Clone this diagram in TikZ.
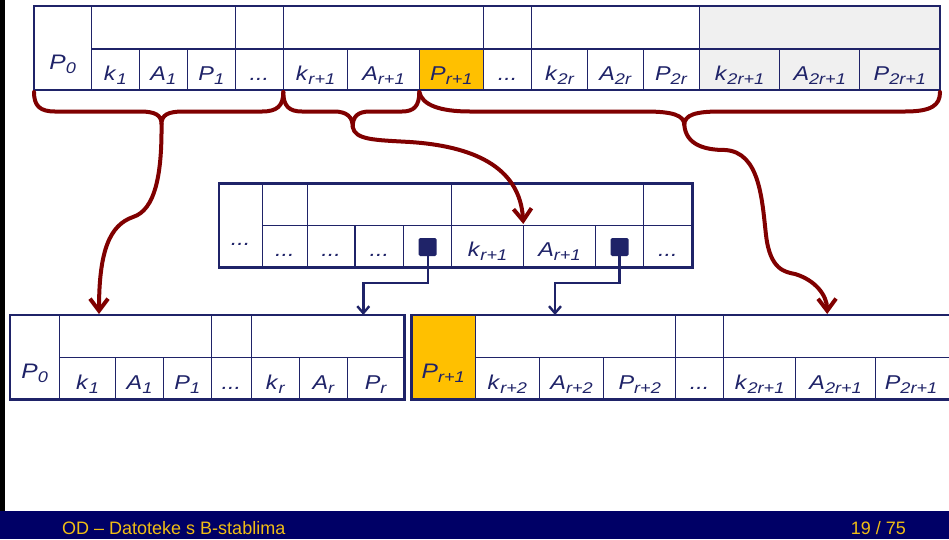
\documentclass[tikz,border=0pt]{standalone}
\usepackage{fontspec}
\setmainfont{Liberation Sans}
\usetikzlibrary{arrows.meta}
\definecolor{navy}{RGB}{31,35,104}
\definecolor{maroon}{RGB}{128,0,0}
\definecolor{gold}{RGB}{255,192,0}
\definecolor{lgray}{RGB}{240,240,240}
\definecolor{footbg}{RGB}{0,0,102}
\definecolor{foottxt}{RGB}{240,190,20}
\newcommand\lbl[2]{\scalebox{1.17}[1]{\textit{#1}\raisebox{-4.5pt}{\fontsize{15.5}{18}\selectfont\textit{#2}}}}
\newcommand\dts{\scalebox{1.17}[1]{\textit{...}}}
\newcommand\bigtxt[1]{{\fontsize{21}{24}\selectfont #1}}
\newcommand\cel[8]{\node[cell,fill=#6,minimum width={#4-#2},minimum height={#5-#3}] (#1) at ({(#2+#4)/2},{(#3+#5)/2}) {};
\node[txt] (#1t) at ({(#2+#4)/2},#8) {#7};}
\newcommand\ecel[6]{\node[cell,fill=#6,minimum width={#4-#2},minimum height={#5-#3}] (#1) at ({(#2+#4)/2},{(#3+#5)/2}) {};}
\newcommand\obox[5]{\node[outerbox,minimum width={#4-#2},minimum height={#5-#3}] (#1) at ({(#2+#4)/2},{(#3+#5)/2}) {};}
\tikzset{
  cell/.style={draw=navy,line width=1.2pt,inner sep=0pt,outer sep=0pt,rectangle},
  outerbox/.style={draw=navy,line width=2.8pt,inner sep=0pt,outer sep=0pt,rectangle},
  txt/.style={text=navy,font=\fontsize{20}{24}\selectfont,anchor=base,inner sep=0pt},
  bracepath/.style={draw=maroon,line width=4pt,line cap=round,line join=round},
  redarrow/.style={bracepath,-{Straight Barb[length=12pt,width=18pt]}},
  bluearrow/.style={draw=navy,line width=2.4pt,-{Straight Barb[length=7pt,width=12pt]}},
  marker/.style={fill=navy,rounded corners=1.5pt,minimum size=18pt,inner sep=0pt},
  foot/.style={text=foottxt,font=\fontsize{18}{21}\selectfont,inner sep=0pt}
}
\begin{document}
\begin{tikzpicture}[x=1pt,y=-1pt]
\useasboundingbox (0,0) rectangle (949,539);
\fill[white] (0,0) rectangle (949,539);
\begin{scope}
\clip (0,0) rectangle (949,539);
% ---------- top node ----------
\cel{a0}{34}{6}{91.3}{90}{white}{\bigtxt{\lbl{P}{0}}}{69}
\ecel{au1}{91.3}{6}{235.3}{49}{white}
\ecel{au2}{235.3}{6}{283.3}{49}{white}
\ecel{au3}{283.3}{6}{483.3}{49}{white}
\ecel{au4}{483.3}{6}{531.7}{49}{white}
\ecel{au5}{531.7}{6}{699.3}{49}{white}
\ecel{au6}{699.3}{6}{940}{49}{lgray}
\cel{a1}{91.3}{49}{139.3}{90}{white}{\lbl{k}{1}}{80}
\cel{a2}{139.3}{49}{187.3}{90}{white}{\lbl{A}{1}}{80}
\cel{a3}{187.3}{49}{235.3}{90}{white}{\lbl{P}{1}}{80}
\cel{a4}{235.3}{49}{283.3}{90}{white}{\dts}{80}
\cel{a5}{283.3}{49}{347.7}{90}{white}{\lbl{k}{r+1}}{80}
\cel{a6}{347.7}{49}{419.3}{90}{white}{\lbl{A}{r+1}}{80}
\cel{a7}{419.3}{49}{483.3}{90}{gold}{\lbl{P}{r+1}}{80}
\cel{a8}{483.3}{49}{531.7}{90}{white}{\dts}{80}
\cel{a9}{531.7}{49}{587.7}{90}{white}{\lbl{k}{2r}}{80}
\cel{a10}{587.7}{49}{643.3}{90}{white}{\lbl{A}{2r}}{80}
\cel{a11}{643.3}{49}{699.3}{90}{white}{\lbl{P}{2r}}{80}
\cel{a12}{699.3}{49}{779.7}{90}{lgray}{\lbl{k}{2r+1}}{80}
\cel{a13}{779.7}{49}{859.7}{90}{lgray}{\lbl{A}{2r+1}}{80}
\cel{a14}{859.7}{49}{940}{90}{lgray}{\lbl{P}{2r+1}}{80}
\obox{A}{34}{6}{940}{90}
% ---------- middle node ----------
\cel{m0}{219}{183.3}{262.3}{267.3}{white}{\dts}{245}
\ecel{mu1}{262.3}{183.3}{307.3}{225.7}{white}
\ecel{mu2}{307.3}{183.3}{451.7}{225.7}{white}
\ecel{mu3}{451.7}{183.3}{643.3}{225.7}{white}
\ecel{mu4}{643.3}{183.3}{692.3}{225.7}{white}
\cel{m1}{262.3}{225.7}{307.3}{267.3}{white}{\dts}{256}
\cel{m2}{307.3}{225.7}{355}{267.3}{white}{\dts}{256}
\cel{m3}{355}{225.7}{403.7}{267.3}{white}{\dts}{256}
\ecel{m4}{403.7}{225.7}{451.7}{267.3}{white}
\cel{m5}{451.7}{225.7}{523.3}{267.3}{white}{\lbl{k}{r+1}}{256}
\cel{m6}{523.3}{225.7}{595.7}{267.3}{white}{\lbl{A}{r+1}}{256}
\ecel{m7}{595.7}{225.7}{643.3}{267.3}{white}
\cel{m8}{643.3}{225.7}{692.3}{267.3}{white}{\dts}{256}
\obox{M}{219}{183.3}{692.3}{267.3}
% ---------- bottom left node ----------
\cel{b0}{10}{315}{59.3}{399.3}{white}{\bigtxt{\lbl{P}{0}}}{378}
\ecel{bu1}{59.3}{315}{211.3}{357.3}{white}
\ecel{bu2}{211.3}{315}{251.3}{357.3}{white}
\ecel{bu3}{251.3}{315}{404.3}{357.3}{white}
\cel{b1}{59.3}{357.3}{115.7}{399.3}{white}{\lbl{k}{1}}{389}
\cel{b2}{115.7}{357.3}{163.3}{399.3}{white}{\lbl{A}{1}}{389}
\cel{b3}{163.3}{357.3}{211.3}{399.3}{white}{\lbl{P}{1}}{389}
\cel{b4}{211.3}{357.3}{251.3}{399.3}{white}{\dts}{389}
\cel{b5}{251.3}{357.3}{299.7}{399.3}{white}{\lbl{k}{r}}{389}
\cel{b6}{299.7}{357.3}{347.7}{399.3}{white}{\lbl{A}{r}}{389}
\cel{b7}{347.7}{357.3}{404.3}{399.3}{white}{\lbl{P}{r}}{389}
\obox{B}{10}{315}{404.3}{399.3}
% ---------- bottom right node ----------
\cel{c0}{411.2}{315}{475.3}{399.3}{gold}{\bigtxt{\lbl{P}{r+1}}}{378}
\ecel{cu1}{475.3}{315}{675.6}{357.3}{white}
\ecel{cu2}{675.6}{315}{723.5}{357.3}{white}
\ecel{cu3}{723.5}{315}{954}{357.3}{white}
\cel{c1}{475.3}{357.3}{539.4}{399.3}{white}{\lbl{k}{r+2}}{389}
\cel{c2}{539.4}{357.3}{603.8}{399.3}{white}{\lbl{A}{r+2}}{389}
\cel{c3}{603.8}{357.3}{675.6}{399.3}{white}{\lbl{P}{r+2}}{389}
\cel{c4}{675.6}{357.3}{723.5}{399.3}{white}{\dts}{389}
\cel{c5}{723.5}{357.3}{795.7}{399.3}{white}{\lbl{k}{2r+1}}{389}
\cel{c6}{795.7}{357.3}{875.5}{399.3}{white}{\lbl{A}{2r+1}}{389}
\ecel{c7}{875.5}{357.3}{954}{399.3}{white}
\node[txt] (c7t) at (911,389) {\lbl{P}{2r+1}};
\obox{C}{411.2}{315}{954}{399.3}
% ---------- pointer markers and blue connectors ----------
\coordinate (bt1) at (363.3,315);
\coordinate (bt2) at (555,315);
\node[marker] (sq1) at (427.7,247) {};
\node[marker] (sq2) at (619.5,247) {};
\draw[bluearrow] (sq1.south) -- ++(0,26.7) -| (bt1);
\draw[bluearrow] (sq2.south) -- ++(0,26.7) -| (bt2);
% ---------- braces ----------
\coordinate (cusp1) at (161.5,124);
\coordinate (cusp2) at (352.7,127);
\coordinate (cusp3) at (684.3,125);
\draw[bracepath] (34,92) .. controls (34,106) and (40,111.5) .. (55,111.5) -- (140,111.5)
  .. controls (155,111.5) and (161.5,115) .. (cusp1)
  .. controls (161.5,115) and (168,111.5) .. (183,111.5) -- (262,111.5)
  .. controls (277,111.5) and (283.3,106) .. (283.3,92);
\draw[bracepath] (283.3,92) .. controls (283.3,106) and (289,111.5) .. (302,111.5) -- (334,111.5)
  .. controls (347,111.5) and (352.7,117) .. (cusp2)
  .. controls (352.7,117) and (357,111.5) .. (370,111.5) -- (402,111.5)
  .. controls (414,111.5) and (419.3,106) .. (419.3,92);
\draw[bracepath] (419.3,92) .. controls (422,105) and (440,111.5) .. (470,111.5) -- (645,111.5)
  .. controls (672,111.5) and (684.3,115) .. (cusp3)
  .. controls (684.3,115) and (695,111.5) .. (720,111.5) -- (905,111.5)
  .. controls (932,111.5) and (940,105) .. (940,92);
% ---------- red connectors ----------
\coordinate (rt1) at (99,314);
\coordinate (rt2) at (523.3,224);
\coordinate (rt3) at (827.2,314);
\draw[redarrow] (cusp1) .. controls (162,175) and (155,210) .. (133,217)
  .. controls (110,225) and (99,250) .. (rt1);
\draw[redarrow] (cusp2) .. controls (355,140) and (375,140) .. (410,142)
  .. controls (470,146) and (520,165) .. (rt2);
\draw[redarrow] (cusp3) .. controls (686,145) and (705,150) .. (725,150)
  .. controls (760,152) and (762,200) .. (766,235)
  .. controls (770,270) and (785,272) .. (795,274)
  .. controls (815,280) and (827,295) .. (rt3);
% ---------- slide frame and footer ----------
\fill[black] (0,0) rectangle (4.5,511);
\fill[footbg] (0,511) rectangle (949,539);
\node[foot,anchor=base west] (ft1) at (62,534) {OD – Datoteke s B-stablima};
\node[foot,anchor=base east] (ft2) at (906,534) {19 / 75};
\end{scope}
\end{tikzpicture}
\end{document}
